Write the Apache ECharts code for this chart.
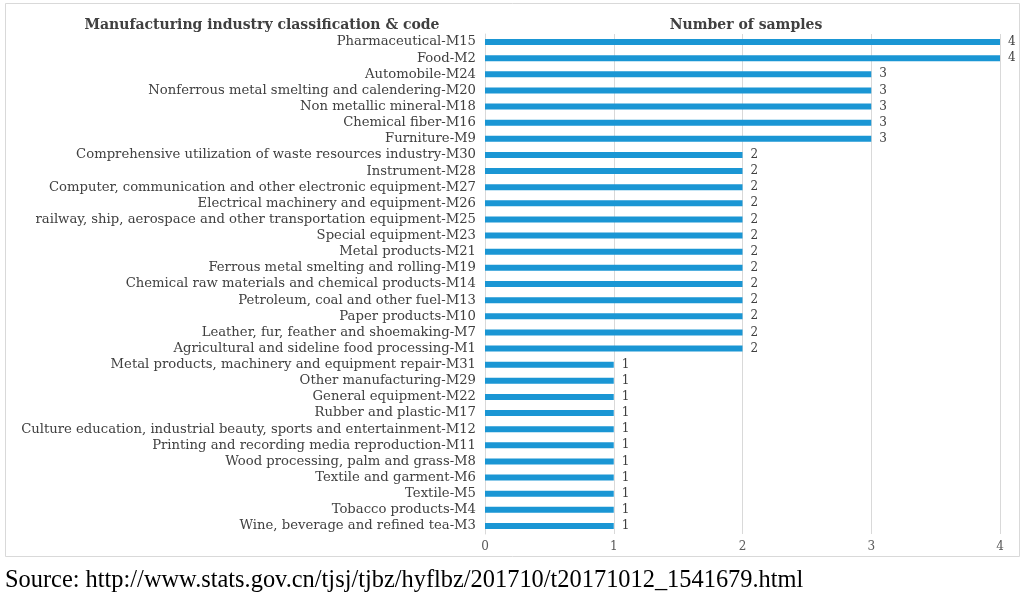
<!DOCTYPE html>
<html lang="en">
<head>
    <meta charset="UTF-8">
    <title>Number of samples</title>
    <script src="https://cdn.jsdelivr.net/npm/echarts@6/dist/echarts.min.js"></script>
    <style>
        html, body { margin: 0; padding: 0; background: #fff; }
        #chart { width: 1024px; height: 600px; }
    </style>
</head>
<body>
<div id="chart"></div>
<script>
    // categories, top to bottom
    var industries = [
        'Pharmaceutical-M15',
        'Food-M2',
        'Automobile-M24',
        'Nonferrous metal smelting and calendering-M20',
        'Non metallic mineral-M18',
        'Chemical fiber-M16',
        'Furniture-M9',
        'Comprehensive utilization of waste resources industry-M30',
        'Instrument-M28',
        'Computer, communication and other electronic equipment-M27',
        'Electrical machinery and equipment-M26',
        'railway, ship, aerospace and other transportation equipment-M25',
        'Special equipment-M23',
        'Metal products-M21',
        'Ferrous metal smelting and rolling-M19',
        'Chemical raw materials and chemical products-M14',
        'Petroleum, coal and other fuel-M13',
        'Paper products-M10',
        'Leather, fur, feather and shoemaking-M7',
        'Agricultural and sideline food processing-M1',
        'Metal products, machinery and equipment repair-M31',
        'Other manufacturing-M29',
        'General equipment-M22',
        'Rubber and plastic-M17',
        'Culture education, industrial beauty, sports and entertainment-M12',
        'Printing and recording media reproduction-M11',
        'Wood processing, palm and grass-M8',
        'Textile and garment-M6',
        'Textile-M5',
        'Tobacco products-M4',
        'Wine, beverage and refined tea-M3'
    ];
    var samples = [4, 4, 3, 3, 3, 3, 3,
        2, 2, 2, 2, 2, 2, 2, 2, 2, 2, 2, 2, 2,
        1, 1, 1, 1, 1, 1, 1, 1, 1, 1, 1];

    var serif = '"DejaVu Serif", "Liberation Serif", serif';

    var chart = echarts.init(document.getElementById('chart'));
    chart.setOption({
        animation: false,
        backgroundColor: '#fff',
        grid: { left: 485, right: 24, top: 34, bottom: 66 },
        graphic: [
            {
                type: 'rect',
                shape: { x: 5.5, y: 3.5, width: 1014, height: 553 },
                style: { fill: 'none', stroke: '#d9d9d9', lineWidth: 1 }
            },
            {
                type: 'text', x: 262, y: 25,
                style: { text: 'Manufacturing industry classification & code', font: 'bold 14px ' + serif, fill: '#404040', align: 'center', verticalAlign: 'middle' }
            },
            {
                type: 'text', x: 746, y: 25,
                style: { text: 'Number of samples', font: 'bold 14px ' + serif, fill: '#404040', align: 'center', verticalAlign: 'middle' }
            },
            {
                type: 'text', left: 5, top: 569,
                style: { text: 'Source: http://www.stats.gov.cn/tjsj/tjbz/hyflbz/201710/t20171012_1541679.html', font: '24.4px "Liberation Serif", serif', fill: '#000' }
            }
        ],
        xAxis: {
            type: 'value',
            min: 0,
            max: 4,
            interval: 1,
            axisLine: { show: false },
            axisTick: { show: false },
            splitLine: { lineStyle: { color: '#d9d9d9' } },
            axisLabel: { color: '#595959', fontFamily: serif, fontSize: 12, margin: 7 }
        },
        yAxis: {
            type: 'category',
            inverse: true,
            data: industries,
            axisLine: { show: true, lineStyle: { color: '#d9d9d9' } },
            axisTick: { show: false },
            axisLabel: { color: '#404040', fontFamily: serif, fontSize: 13.2, margin: 9, interval: 0 }
        },
        series: [{
            type: 'bar',
            data: samples,
            barWidth: 6,
            itemStyle: { color: '#1a96d4' },
            label: {
                show: true,
                position: 'right',
                distance: 8,
                color: '#404040',
                fontFamily: serif,
                fontSize: 12
            }
        }]
    });
</script>
</body>
</html>
